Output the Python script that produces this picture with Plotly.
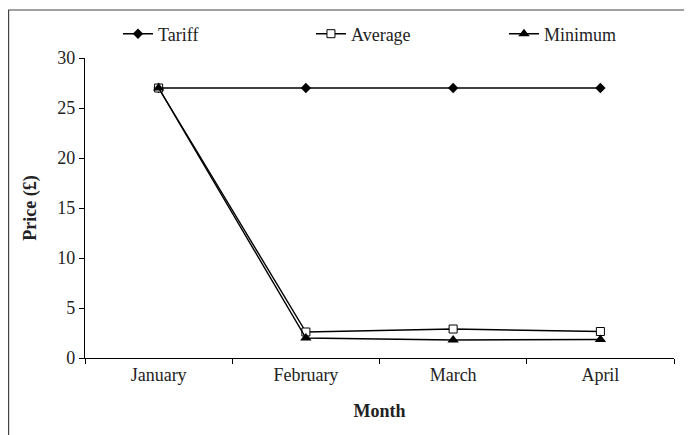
import plotly.graph_objects as go

months = ["January", "February", "March", "April"]
tariff = [27, 27, 27, 27]
average = [27, 2.6, 2.9, 2.65]
minimum = [27, 2.0, 1.8, 1.85]
y_ticks = [0, 5, 10, 15, 20, 25, 30]

FONT = "Liberation Serif, Times New Roman, serif"

fig = go.Figure()
fig.add_trace(go.Scatter(x=months, y=tariff, name="Tariff", mode="lines+markers",
                         line=dict(color="black", width=1.4),
                         marker=dict(symbol="diamond", size=8, color="black")))
fig.add_trace(go.Scatter(x=months, y=average, name="Average", mode="lines+markers",
                         line=dict(color="black", width=1.4),
                         marker=dict(symbol="square", size=8, color="white",
                                     line=dict(color="black", width=1))))
fig.add_trace(go.Scatter(x=months, y=minimum, name="Minimum", mode="lines+markers",
                         line=dict(color="black", width=1.4),
                         marker=dict(symbol="triangle-up", size=10, color="black")))

fig.update_layout(
    width=692, height=435,
    margin=dict(l=77, r=26, t=50, b=85, autoexpand=False),
    paper_bgcolor="white", plot_bgcolor="white",
    font=dict(family=FONT, size=18, color="#222222"),
    showlegend=True,
    legend=dict(orientation="h", x=0.056, y=1.08, xanchor="left", yanchor="middle",
                entrywidth=148, entrywidthmode="pixels",
                font=dict(size=18), bgcolor="rgba(0,0,0,0)"),
    xaxis=dict(type="category", range=[-0.5, 3.5], showline=True, linecolor="black",
               linewidth=1.2, ticks="outside", tickson="boundaries", ticklen=5,
               tickcolor="black", showgrid=False, zeroline=False, automargin=False,
               title=dict(text="<b>Month</b>", standoff=20, font=dict(size=18))),
    yaxis=dict(range=[0, 30], tickvals=y_ticks, showline=True, linecolor="black",
               linewidth=1.2, ticks="outside", ticklen=5, tickcolor="black",
               showgrid=False, zeroline=False, automargin=False,
               title=dict(text="<b>Price (£)</b>", standoff=15, font=dict(size=18))),
    shapes=[dict(type="rect", xref="paper", yref="paper",
                 x0=-0.1297, x1=1.1, y0=-0.3, y1=1.16,
                 line=dict(color="#444444", width=1.2), fillcolor="rgba(0,0,0,0)")],
)

fig.write_html("out.html")
